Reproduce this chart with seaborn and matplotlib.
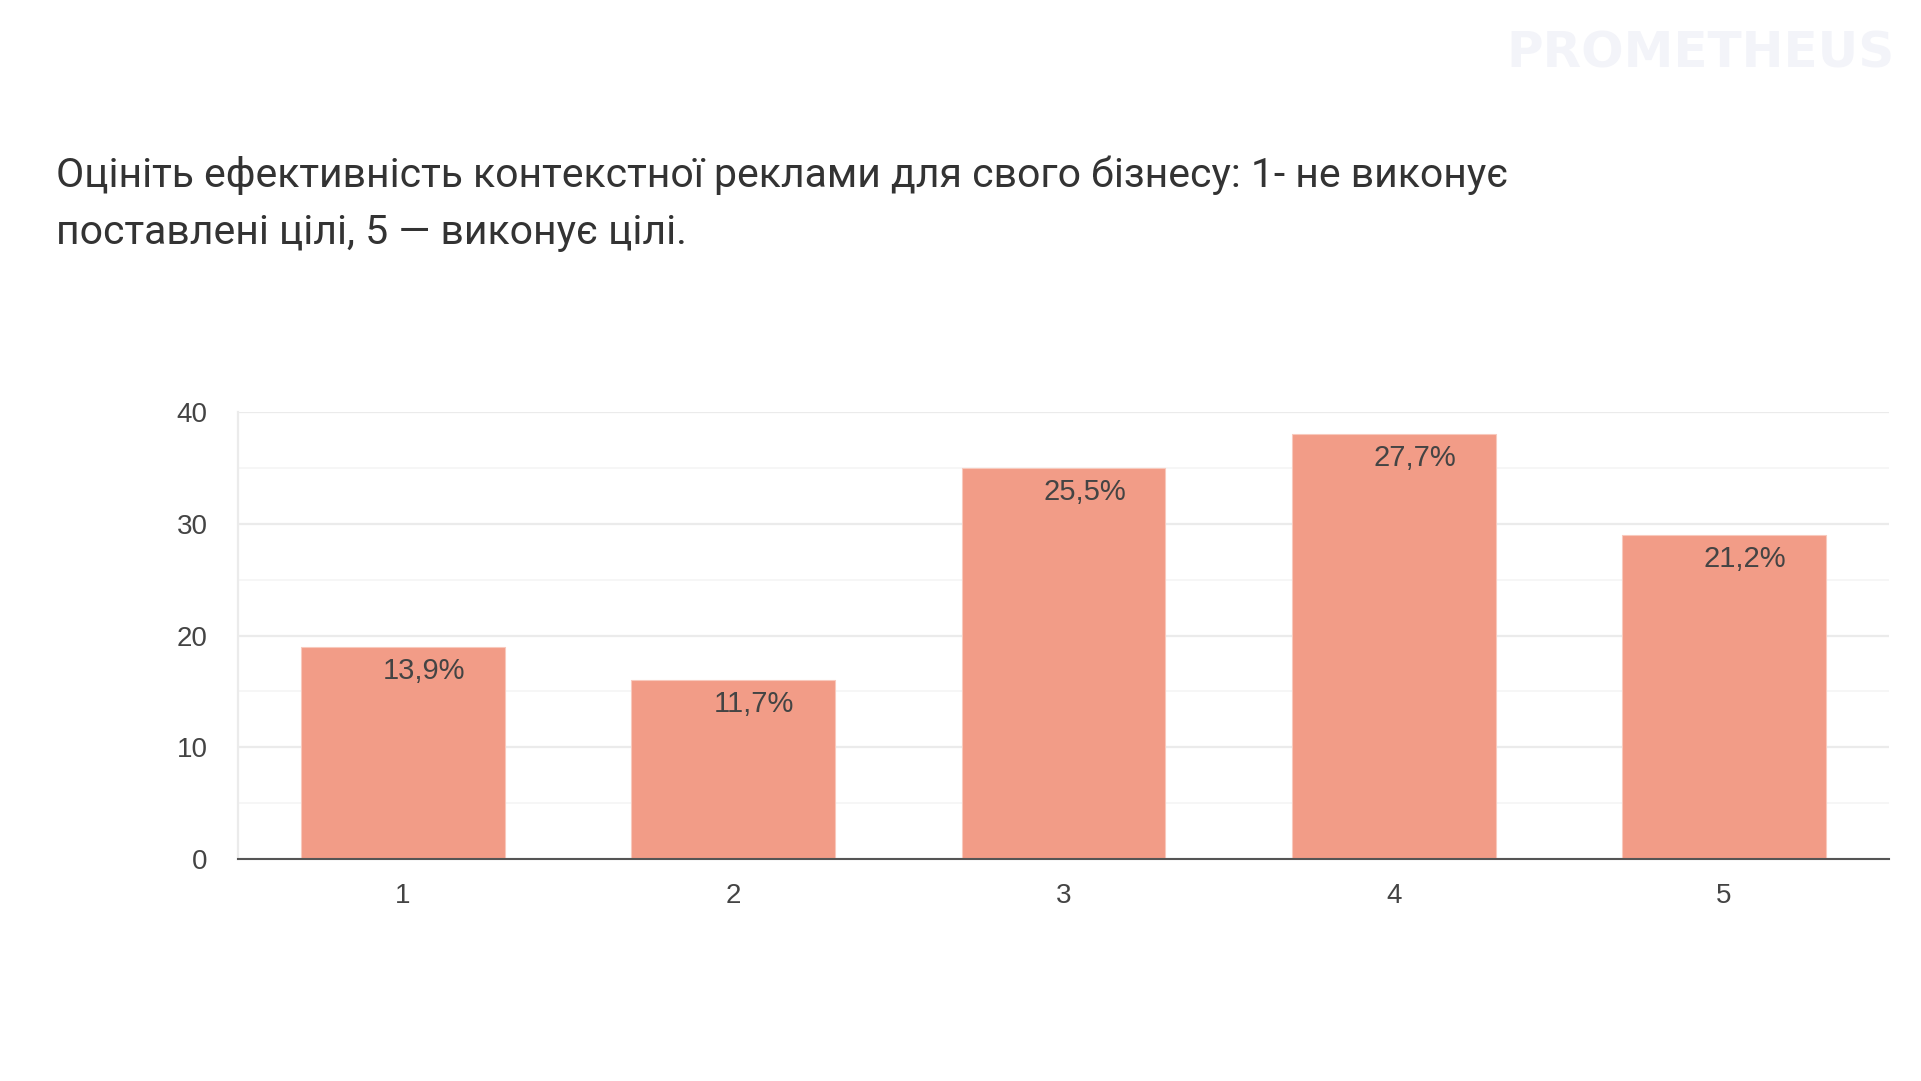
import matplotlib
matplotlib.use("Agg")
import matplotlib.pyplot as plt
import seaborn as sns
import pandas as pd
from matplotlib.ticker import MultipleLocator

categories = ["1", "2", "3", "4", "5"]
counts = [19, 16, 35, 38, 29]
percent_labels = ["13,9%", "11,7%", "25,5%", "27,7%", "21,2%"]
yticks = [0, 10, 20, 30, 40]
title_lines = ["Оцініть ефективність контекстної реклами для свого бізнесу: 1- не виконує",
               "поставлені цілі, 5 — виконує цілі."]
watermark = "PROMETHEUS"

sns.set_theme(style="white")
plt.rcParams['font.family'] = ['Roboto', 'DejaVu Sans']

W, H = 1921, 1081
fig = plt.figure(figsize=(W / 100, H / 100), dpi=100)
fig.patch.set_facecolor("white")

ax = fig.add_axes([238 / W, 1 - 859 / H, (1889 - 238) / W, (859 - 412) / H])

df = pd.DataFrame({"cat": categories, "count": counts})
sns.barplot(data=df, x="cat", y="count", color="#F29C87", saturation=1,
            width=0.617, ax=ax, edgecolor="#F8C9BD", linewidth=0.8, zorder=3)

ax.set_xlim(-0.5, 4.5)
ax.set_ylim(0, 40)
ax.set_yticks(yticks)
ax.yaxis.set_minor_locator(MultipleLocator(5))
ax.grid(axis="y", which="major", color="#EBEBEB", linewidth=1.6, zorder=0)
ax.grid(axis="y", which="minor", color="#F5F5F5", linewidth=1.2, zorder=0)
ax.grid(axis="x", visible=False)
ax.set_axisbelow(True)

for s in ["top", "right"]:
    ax.spines[s].set_visible(False)
ax.spines["left"].set_color("#EBEBEB")
ax.spines["left"].set_linewidth(1.6)
ax.spines["bottom"].set_color("#555555")
ax.spines["bottom"].set_linewidth(1.5)
ax.spines["bottom"].set_zorder(5)

ax.set_xlabel("")
ax.set_ylabel("")
ax.tick_params(axis="y", which="both", length=0, pad=22, labelsize=20, labelcolor="#444444")
ax.tick_params(axis="x", length=0, pad=17, labelsize=20, labelcolor="#444444")
for lab in ax.get_xticklabels() + ax.get_yticklabels():
    lab.set_family(["Liberation Sans", "DejaVu Sans"])

for i, (c, lab) in enumerate(zip(counts, percent_labels)):
    ax.annotate(lab, xy=(i, c), xytext=(21, -24), textcoords="offset pixels",
                ha="center", va="center", fontsize=21, color="#444444", zorder=6,
                family=["Liberation Sans", "DejaVu Sans"])

for k, line in enumerate(title_lines):
    fig.text(56 / W, 1 - (175 + 58 * k) / H, line, ha="left", va="center",
             fontsize=29.5, color="#333333")

fig.text(1895 / W, 1 - 54 / H, watermark, ha="right", va="center",
         fontsize=36, fontweight="heavy", color="#F3F4F9",
         family=["DejaVu Sans"])

fig.savefig("out.png", dpi=100, facecolor="white")
